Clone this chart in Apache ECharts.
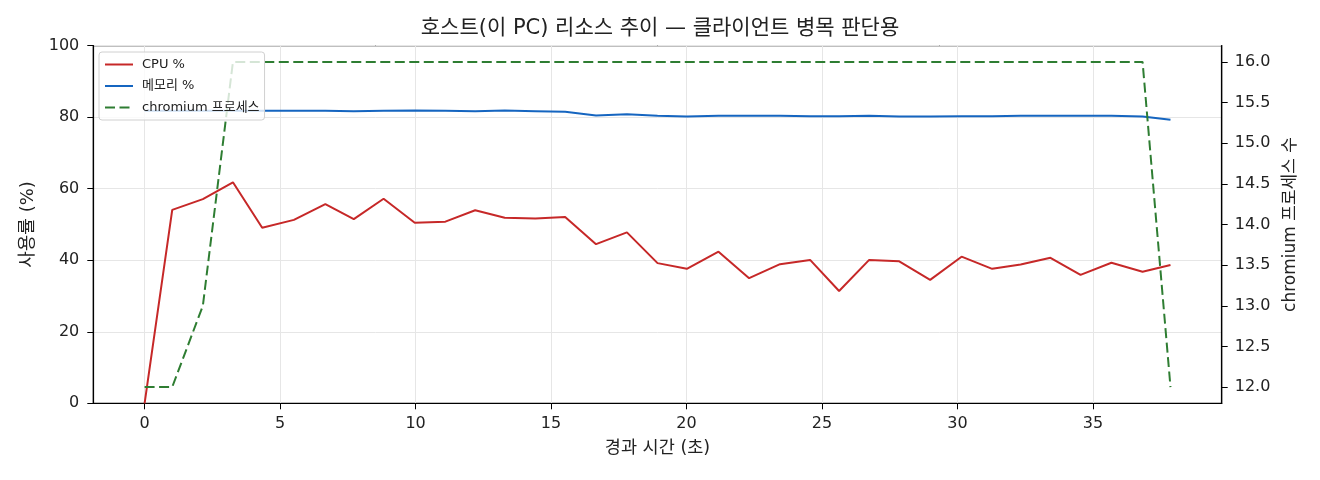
<!DOCTYPE html>
<html>
<head>
<meta charset="utf-8">
<script src="https://cdn.jsdelivr.net/npm/echarts@6/dist/echarts.min.js"></script>
<style>
html,body{margin:0;padding:0;background:#fff;}
#chart{width:1320px;height:480px;}
</style>
</head>
<body>
<div id="chart"></div>
<script>
// elapsed seconds
const timeSec = [0, 1.02, 2.15, 3.26, 4.34, 5.51, 6.67, 7.72, 8.82, 9.97, 11.10, 12.20, 13.29, 14.42, 15.52, 16.66, 17.80, 18.93, 20.01, 21.18, 22.31, 23.45, 24.56, 25.63, 26.74, 27.85, 28.99, 30.15, 31.28, 32.33, 33.43, 34.54, 35.68, 36.83, 37.86];
const cpuPct = [0, 54.1, 57.1, 61.8, 49.1, 51.3, 55.7, 51.5, 57.2, 50.5, 50.8, 54.0, 51.9, 51.7, 52.1, 44.5, 47.8, 39.2, 37.6, 42.4, 35.0, 38.9, 40.1, 31.4, 40.1, 39.7, 34.5, 41.0, 37.6, 38.8, 40.7, 35.9, 39.3, 36.8, 38.7];
const memPct = [81.8, 81.8, 81.8, 81.8, 81.8, 81.8, 81.8, 81.7, 81.8, 81.9, 81.8, 81.7, 81.9, 81.7, 81.5, 80.5, 80.8, 80.4, 80.2, 80.4, 80.4, 80.4, 80.3, 80.3, 80.4, 80.2, 80.2, 80.3, 80.3, 80.4, 80.4, 80.4, 80.4, 80.2, 79.3];
const chromiumProcs = [12, 12, 13, 16, 16, 16, 16, 16, 16, 16, 16, 16, 16, 16, 16, 16, 16, 16, 16, 16, 16, 16, 16, 16, 16, 16, 16, 16, 16, 16, 16, 16, 16, 16, 12];
const xTicks = [0, 5, 10, 15, 20, 25, 30, 35];
const rightTicks = [12.0, 12.5, 13.0, 13.5, 14.0, 14.5, 15.0, 15.5, 16.0];
const seriesNames = ['CPU %', '메모리 %', 'chromium 프로세스'];

const pair = (ys) => timeSec.map((t, i) => [t, ys[i]]);
const FONT = '"DejaVu Sans", "Noto Sans CJK KR", sans-serif';
const TXT = '#222';

const chart = echarts.init(document.getElementById('chart'), null, {renderer: 'canvas'});
chart.setOption({
  animation: false,
  backgroundColor: '#fff',
  textStyle: {fontFamily: FONT},
  title: {
    text: '호스트(이 PC) 리소스 추이 — 클라이언트 병목 판단용',
    left: 'center', top: 13,
    textStyle: {fontFamily: FONT, fontSize: 21, fontWeight: 'normal', color: TXT}
  },
  grid: {left: 93.3, right: 98.3, top: 45.7, bottom: 76.7, containLabel: false,
    show: true, borderColor: '#000', borderWidth: 1.2, backgroundColor: 'transparent'},
  legend: {
    orient: 'vertical', left: 99, top: 52,
    data: seriesNames,
    itemWidth: 28, itemHeight: 14, itemGap: 8.5,
    padding: [6, 5, 6, 5],
    itemStyle: {opacity: 0},
    lineStyle: {width: 2},
    backgroundColor: 'rgba(255,255,255,0.8)',
    borderColor: '#d0d0d0', borderWidth: 1, borderRadius: 3,
    textStyle: {fontFamily: FONT, fontSize: 13, color: TXT, padding: [0, 0, 0, 4]}
  },
  xAxis: {
    type: 'value', min: -1.893, max: 39.75,
    name: '경과 시간 (초)', nameLocation: 'middle', nameGap: 36,
    nameTextStyle: {fontFamily: FONT, fontSize: 17.5, color: TXT},
    axisLine: {show: true, onZero: false, lineStyle: {color: '#000', width: 1.2}},
    axisTick: {show: true, inside: false, length: 6, customValues: xTicks, lineStyle: {color: '#000'}},
    axisLabel: {customValues: xTicks, margin: 13, fontFamily: FONT, fontSize: 16, color: TXT},
    splitLine: {show: true, lineStyle: {color: '#e6e6e6', width: 1}}
  },
  yAxis: [{
    type: 'value', min: 0, max: 100, interval: 20, position: 'left',
    name: '사용률 (%)', nameLocation: 'middle', nameGap: 56, nameRotate: 90,
    nameTextStyle: {fontFamily: FONT, fontSize: 18, color: TXT},
    axisLine: {show: true, onZero: false, lineStyle: {color: '#000', width: 1.2}},
    axisTick: {show: true, length: 6, lineStyle: {color: '#000'}},
    axisLabel: {margin: 14, fontFamily: FONT, fontSize: 16, color: TXT},
    splitLine: {show: true, lineStyle: {color: '#e6e6e6', width: 1}}
  }, {
    type: 'value', min: 11.8, max: 16.2, position: 'right',
    name: 'chromium 프로세스 수', nameLocation: 'middle', nameGap: 60, nameRotate: 90,
    nameTextStyle: {fontFamily: FONT, fontSize: 17, color: TXT},
    axisLine: {show: true, onZero: false, lineStyle: {color: '#000', width: 1.2}},
    axisTick: {show: true, length: 6, customValues: rightTicks, lineStyle: {color: '#000'}},
    axisLabel: {customValues: rightTicks, margin: 13, fontFamily: FONT, fontSize: 16, color: TXT,
      formatter: (v) => Number(v).toFixed(1)},
    splitLine: {show: false}
  }],
  series: [{
    name: seriesNames[0], type: 'line', yAxisIndex: 0, data: pair(cpuPct),
    symbol: 'none', lineStyle: {color: '#c62828', width: 2}, itemStyle: {color: '#c62828'}
  }, {
    name: seriesNames[1], type: 'line', yAxisIndex: 0, data: pair(memPct),
    symbol: 'none', lineStyle: {color: '#1565c0', width: 2}, itemStyle: {color: '#1565c0'}
  }, {
    name: seriesNames[2], type: 'line', yAxisIndex: 1, data: pair(chromiumProcs),
    symbol: 'none', lineStyle: {color: '#2e7d32', width: 2, type: [10, 4.5]}, itemStyle: {color: '#2e7d32'}
  }]
});
</script>
</body>
</html>
